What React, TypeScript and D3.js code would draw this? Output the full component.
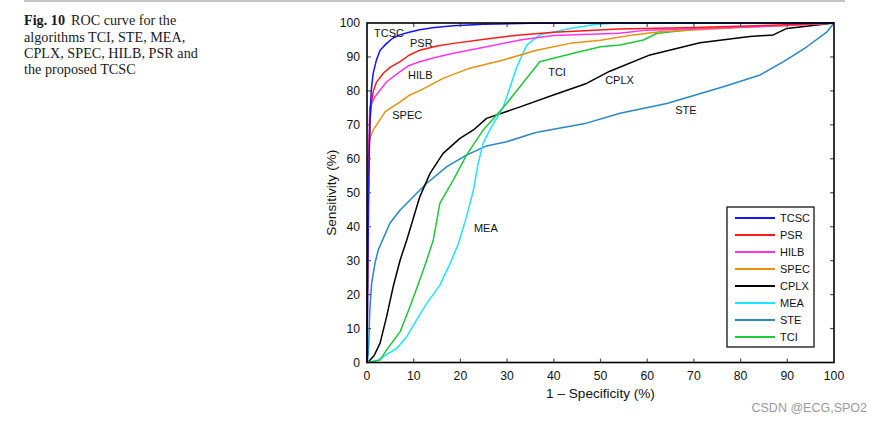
import React from "react";
import * as d3 from "d3";

const seriesNames = ["TCSC", "PSR", "HILB", "SPEC", "CPLX", "MEA", "STE", "TCI"];
const seriesColors = ["#1414ff", "#ff1a1a", "#ff33ee", "#e8900c", "#000000", "#1ee6ff", "#2a86c6", "#1ec83a"];

const tcsc: [number, number][] = [[0,0],[0.2,30],[0.4,55],[0.6,70],[0.9,80],[1.3,85],[2,89],[2.8,92],[4.2,94],[5.5,95.5],[7,96.5],[9,97.3],[11.3,98],[14,98.6],[18.4,99.2],[25,99.6],[35,99.9],[50,100],[100,100]];
const psr: [number, number][] = [[0,0],[0.2,40],[0.4,60],[0.7,72],[1,77],[1.35,80],[2,82.5],[3.5,85.2],[5,87],[7.1,88.6],[9,90.5],[11.3,92],[15,93.2],[18.5,94],[25.6,95.3],[32.8,96.5],[40,97.3],[54,98.2],[70,98.7],[85,99.3],[100,100]];
const hilb: [number, number][] = [[0,0],[0.2,40],[0.4,65],[0.6,75.3],[1.7,78.3],[4.2,82.7],[7.1,85.7],[9,87.5],[11.3,88.6],[15,90],[18.5,91.1],[25.6,93],[32.8,95],[39.9,96.3],[54,97],[60,97.9],[71,98.4],[85,99],[100,100]];
const spec: [number, number][] = [[0,0],[0.1,30],[0.2,55],[0.3,63],[0.6,66],[1.35,68.5],[3.9,73.9],[7.1,76.8],[9.2,78.8],[11.3,80.1],[16.3,83.7],[22,86.7],[29.2,89.1],[36.3,92],[43.5,94],[50,94.9],[57,96.5],[62.7,97.4],[80,98.7],[100,100]];
const cplx: [number, number][] = [[0,0],[0.3,0.2],[1.5,2],[2.8,5.7],[4.2,13.5],[5.6,22.3],[7.1,30.2],[8.5,36],[11.3,48.8],[13.5,55.7],[16.3,61.6],[19.9,66],[22.8,68.5],[25.6,71.9],[32.8,75.3],[39.9,78.8],[47,82.2],[52,85.8],[60.6,90.6],[71.3,94.2],[82,96],[87,96.5],[89.9,98.4],[95,99.2],[100,100]];
const mea: [number, number][] = [[0,0],[2,0.5],[3.5,1.7],[6.4,4.2],[8.5,7.6],[10.6,12.5],[12.8,17.4],[15.6,22.8],[17.8,29.2],[19.6,35.1],[21.3,42.9],[22.8,50.8],[23.8,58.7],[24.9,64.6],[26.3,68.5],[29.2,75.3],[32.1,87.1],[34.2,93.5],[37,96.5],[43.5,98.4],[49.2,99.6],[54,100],[100,100]];
const ste: [number, number][] = [[0,0],[0.3,2.7],[0.6,15.5],[1,23.3],[1.7,29.2],[2.4,33.1],[4.9,41],[7.1,44.9],[9.9,48.8],[12.8,52.8],[17.1,57.7],[21.3,61.1],[25.6,63.8],[29.9,65],[35.6,67.5],[37,68],[47,70.5],[54.2,73.4],[64.2,76.3],[76.3,81.2],[84.2,84.7],[89.2,88.6],[94.2,93],[98.5,97.4],[100,100]];
const tci: [number, number][] = [[0,0],[2.8,0.7],[4.2,3.7],[7.1,9.1],[9.2,16.4],[11.3,24.3],[12.8,30.2],[14.2,36.1],[15.6,46.9],[18.5,53.8],[21.3,61.1],[24.9,68.5],[29.9,76.3],[37,88.6],[44.2,91.1],[50,93],[54.2,93.5],[59.2,95],[62,96.9],[71.3,98.4],[90,99.3],[100,100]];
const seriesData = [tcsc, psr, hilb, spec, cplx, mea, ste, tci];

const curveLabels = ["TCSC", "PSR", "HILB", "SPEC", "TCI", "CPLX", "STE", "MEA"];
const curveLabelX = [1.5, 9.2, 8.8, 5.4, 38.8, 51, 66, 22.9];
const curveLabelY = [97, 94.1, 84.7, 73, 85.6, 83.2, 74.4, 39.6];

const xTicks = [0, 10, 20, 30, 40, 50, 60, 70, 80, 90, 100];
const yTicks = [0, 10, 20, 30, 40, 50, 60, 70, 80, 90, 100];

const captionLines = ["ROC curve for the", "algorithms TCI, STE, MEA,", "CPLX, SPEC, HILB, PSR and", "the proposed TCSC"];

export default function App() {
  const L = 367, R = 834, T = 23, B = 362.5;
  const x = d3.scaleLinear().domain([0, 100]).range([L, R]);
  const y = d3.scaleLinear().domain([0, 100]).range([B, T]);
  const line = d3.line<[number, number]>().x(d => x(d[0])).y(d => y(d[1]));
  const sans = "'Liberation Sans', Arial, Helvetica, sans-serif";
  const drawOrder = [6, 4, 5, 7, 3, 2, 1, 0];
  return (
    <svg width={882} height={423} style={{ position: "absolute", left: 0, top: 0, background: "#fff" }}>
      <rect x={0} y={0} width={882} height={423} fill="#fff" />
      <line x1={24} x2={845} y1={1} y2={1} stroke="#c4c4c4" strokeWidth={2} />
      <g fontFamily="'Liberation Serif', 'Times New Roman', serif" fontSize={14.2} fill="#1a1a1a">
        <text x={24} y={25}>
          <tspan fontWeight="bold">Fig. 10</tspan>
          <tspan dx={6}>{captionLines[0]}</tspan>
        </text>
        {captionLines.slice(1).map((t, i) => (
          <text key={i} x={24} y={41.5 + i * 16.3}>{t}</text>
        ))}
      </g>
      <g fill="none" strokeWidth={1.5} strokeLinejoin="round">
        {drawOrder.map(i => (
          <path key={i} d={line(seriesData[i]) || ""} stroke={seriesColors[i]} />
        ))}
      </g>
      <g stroke="#555" strokeWidth={1.2}>
        {xTicks.slice(1, -1).map(t => (
          <g key={"xt" + t}>
            <line x1={x(t)} x2={x(t)} y1={B} y2={B - 4} />
            <line x1={x(t)} x2={x(t)} y1={T} y2={T + 4} />
          </g>
        ))}
        {yTicks.slice(1, -1).map(t => (
          <g key={"yt" + t}>
            <line x1={L} x2={L + 4} y1={y(t)} y2={y(t)} />
            <line x1={R} x2={R - 4} y1={y(t)} y2={y(t)} />
          </g>
        ))}
      </g>
      <rect x={L} y={T} width={R - L} height={B - T} fill="none" stroke="#000" strokeWidth={1.6} />
      <g fontFamily={sans} fontSize={12.2} fill="#111">
        {xTicks.map(t => (
          <text key={"xl" + t} x={x(t)} y={B + 17} textAnchor="middle">{t}</text>
        ))}
        {yTicks.map(t => (
          <text key={"yl" + t} x={L - 7} y={y(t)} dy="0.35em" textAnchor="end">{t}</text>
        ))}
      </g>
      <text x={(L + R) / 2} y={398} textAnchor="middle" fontFamily={sans} fontSize={13.6} fill="#111">1 – Specificity (%)</text>
      <text transform={`translate(336, ${(T + B) / 2}) rotate(-90)`} textAnchor="middle" fontFamily={sans} fontSize={13.6} fill="#111">Sensitivity (%)</text>
      <g fontFamily={sans} fontSize={11} fill="#111">
        {curveLabels.map((t, i) => (
          <text key={t} x={x(curveLabelX[i])} y={y(curveLabelY[i])} dy="0.35em">{t}</text>
        ))}
      </g>
      <g>
        <rect x={727} y={207} width={87} height={140} fill="#fff" stroke="#000" strokeWidth={1.2} />
        {seriesNames.map((n, i) => (
          <g key={n} transform={`translate(0, ${218 + i * 17})`}>
            <line x1={735} x2={775} y1={0} y2={0} stroke={seriesColors[i]} strokeWidth={2} />
            <text x={780} y={0} dy="0.35em" fontFamily={sans} fontSize={11} fill="#111">{n}</text>
          </g>
        ))}
      </g>
      <text x={867} y={412} textAnchor="end" fontFamily={sans} fontSize={12.5} fill="#9a9a9a">CSDN @ECG,SPO2</text>
    </svg>
  );
}
